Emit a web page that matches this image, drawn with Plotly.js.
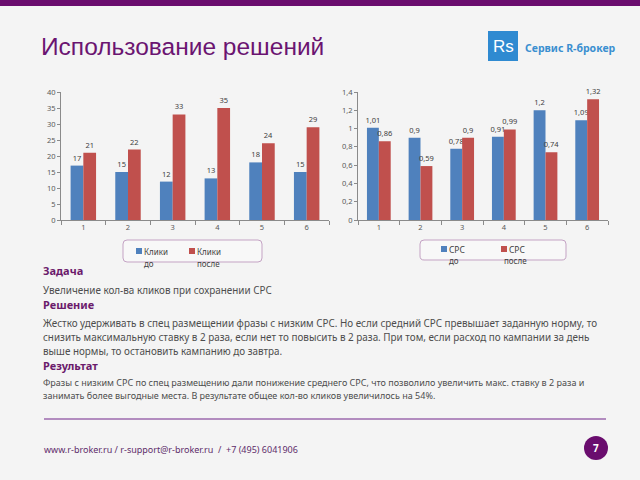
<!DOCTYPE html>
<html><head><meta charset="utf-8">
<script src="https://cdn.plot.ly/plotly-3.0.1.min.js"></script>
<style>html,body{margin:0;padding:0;background:#f4f4f4}#chart{width:640px;height:480px}</style>
</head><body><div id="chart"></div>
<script>
// ---- data ----
const categories = ['1', '2', '3', '4', '5', '6'];
const clicksBefore = [17, 15, 12, 13, 18, 15];
const clicksAfter = [21, 22, 33, 35, 24, 29];
const cpcBefore = [1.01, 0.9, 0.78, 0.91, 1.2, 1.09];
const cpcAfter = [0.86, 0.59, 0.9, 0.99, 0.74, 1.32];
const clicksTicks = [0, 5, 10, 15, 20, 25, 30, 35, 40];
const cpcTicks = [0, 0.2, 0.4, 0.6, 0.8, 1, 1.2, 1.4];
const seriesNames = ['Клики до', 'Клики после', 'CPC до', 'CPC после'];

// ---- helpers ----
const W = 640, H = 480;
const px = x => x / W;
const py = y => 1 - y / H;
const comma = v => String(v).replace('.', ',');
const BLUE = '#4f81bd', RED = '#c0504d';
const PURPLE = '#6a0d6e';
const FONT = 'Noto Sans, sans-serif';

function barTrace(vals, color, name, xa, ya) {
  return {
    type: 'bar', x: categories, y: vals, name: name,
    xaxis: xa, yaxis: ya,
    marker: {color: color, line: {width: 0}},
    text: vals.map(comma), textposition: 'outside',
    textfont: {family: FONT, size: 7.5, color: '#404040'},
    cliponaxis: false, constraintext: 'none', showlegend: false,
    hoverinfo: 'skip'
  };
}

const data = [
  barTrace(clicksBefore, BLUE, seriesNames[0], 'x', 'y'),
  barTrace(clicksAfter, RED, seriesNames[1], 'x', 'y'),
  barTrace(cpcBefore, BLUE, seriesNames[2], 'x2', 'y2'),
  barTrace(cpcAfter, RED, seriesNames[3], 'x2', 'y2')
];

const axisCommon = {
  showline: true, linecolor: '#8a8a8a', linewidth: 1,
  showgrid: false, zeroline: false,
  ticks: 'outside', tickcolor: '#8a8a8a', ticklen: 3,
  tickfont: {family: FONT, size: 7.5, color: '#595959'},
  fixedrange: true
};
const xCommon = Object.assign({}, axisCommon, {
  type: 'category', tickson: 'boundaries', ticklen: 4
});

function roundRect(x0, y0, x1, y1, r) {
  const X = v => px(v).toFixed(5), Y = v => py(v).toFixed(5);
  return `M${X(x0 + r)},${Y(y0)} L${X(x1 - r)},${Y(y0)} Q${X(x1)},${Y(y0)} ${X(x1)},${Y(y0 + r)} ` +
    `L${X(x1)},${Y(y1 - r)} Q${X(x1)},${Y(y1)} ${X(x1 - r)},${Y(y1)} L${X(x0 + r)},${Y(y1)} ` +
    `Q${X(x0)},${Y(y1)} ${X(x0)},${Y(y1 - r)} L${X(x0)},${Y(y0 + r)} Q${X(x0)},${Y(y0)} ${X(x0 + r)},${Y(y0)} Z`;
}

function rect(x0, y0, x1, y1, fill, line) {
  return {type: 'rect', xref: 'paper', yref: 'paper', x0: px(x0), x1: px(x1), y0: py(y1), y1: py(y0),
    fillcolor: fill, line: line || {width: 0}, layer: 'above'};
}

const shapes = [
  rect(0, 0, 640, 6, PURPLE),
  // logo box
  rect(488, 31, 518, 61, '#2f8ad1'),
  // legends
  {type: 'path', xref: 'paper', yref: 'paper', path: roundRect(123, 240, 262, 262, 4),
    line: {color: '#c4a3c4', width: 1}, fillcolor: 'rgba(250,250,250,0.6)', layer: 'below'},
  rect(136, 248, 142, 254, BLUE),
  rect(189, 248, 195, 254, RED),
  {type: 'path', xref: 'paper', yref: 'paper', path: roundRect(420, 240, 566, 260, 4),
    line: {color: '#c4a3c4', width: 1}, fillcolor: 'rgba(250,250,250,0.6)', layer: 'below'},
  rect(441, 246, 447, 252, BLUE),
  rect(501, 246, 507, 252, RED),
  // footer line
  {type: 'line', xref: 'paper', yref: 'paper', x0: px(44), x1: px(606), y0: py(419), y1: py(419),
    line: {color: '#b28cbf', width: 2}},
  // page number circle
  {type: 'circle', xref: 'paper', yref: 'paper', x0: px(584), x1: px(608), y0: py(460), y1: py(436),
    fillcolor: PURPLE, line: {width: 0}}
];

function txt(x, y, text, size, color, extra) {
  return Object.assign({
    xref: 'paper', yref: 'paper', x: px(x), y: py(y), text: text,
    showarrow: false, xanchor: 'left', yanchor: 'middle',
    font: {family: FONT, size: size, color: color}, borderpad: 0
  }, extra || {});
}

const HEAD = '#6b1a6b', BODY = '#4d4d4d';
const annotations = [
  txt(40, 47, 'Использование решений', 24.5, '#6b1471', {font: {family: 'Liberation Sans, Arial, sans-serif', size: 24.5, color: '#6b1471'}}),
  txt(524, 48, '<b>Сервис R-брокер</b>', 10.5, '#3a8fd0'),
  txt(503, 46, 'Rs', 17, '#ffffff', {xanchor: 'center', font: {family: 'Liberation Sans, sans-serif', size: 17, color: '#ffffff'}}),
  // legends
  txt(143, 251, 'Клики', 8, '#404040'),
  txt(143, 263, 'до', 8, '#404040'),
  txt(196, 251, 'Клики', 8, '#404040'),
  txt(196, 263, 'после', 8, '#404040'),
  txt(448, 249, 'CPC', 8.5, '#404040'),
  txt(448, 260, 'до', 8, '#404040'),
  txt(508, 249, 'CPC', 8.5, '#404040'),
  txt(503, 260, 'после', 8, '#404040'),
  // text blocks
  txt(42, 270, '<b>Задача</b>', 11, HEAD),
  txt(42, 290, 'Увеличение кол-ва кликов при сохранении CPC', 9.9, BODY),
  txt(42, 304, '<b>Решение</b>', 11, HEAD),
  txt(42, 323, 'Жестко удерживать в спец размещении фразы с низким CPC. Но если средний CPC превышает заданную норму, то', 9.9, BODY),
  txt(42, 337, 'снизить максимальную ставку в 2 раза, если нет то повысить в 2 раза. При том, если расход по кампании за день', 9.9, BODY),
  txt(42, 351, 'выше нормы, то остановить кампанию до завтра.', 9.9, BODY),
  txt(42, 365, '<b>Результат</b>', 11, HEAD),
  txt(42, 382, 'Фразы с низким CPC по спец размещению дали понижение среднего CPC, что позволило увеличить макс. ставку в 2 раза и', 9, BODY),
  txt(42, 395, 'занимать более выгодные места. В результате общее кол-во кликов увеличилось на 54%.', 9, BODY),
  // footer
  txt(43, 449, 'www.r-broker.ru / r-support@r-broker.ru  /  +7 (495) 6041906', 9, '#5e2d6b'),
  txt(596, 448, '<b>7</b>', 10, '#ffffff', {xanchor: 'center'})
];

const layout = {
  width: W, height: H,
  margin: {l: 0, r: 0, t: 0, b: 0},
  paper_bgcolor: '#f4f4f4', plot_bgcolor: 'rgba(0,0,0,0)',
  showlegend: false,
  barmode: 'group', bargap: 0.43, bargroupgap: 0,
  font: {family: FONT},
  xaxis: Object.assign({}, xCommon, {domain: [px(61), px(329)], anchor: 'y'}),
  yaxis: Object.assign({}, axisCommon, {domain: [py(220), py(92)], anchor: 'x', range: [0, 40],
    tickvals: clicksTicks, ticktext: clicksTicks.map(comma)}),
  xaxis2: Object.assign({}, xCommon, {domain: [px(358), px(608)], anchor: 'y2'}),
  yaxis2: Object.assign({}, axisCommon, {domain: [py(220), py(92)], anchor: 'x2', range: [0, 1.4],
    tickvals: cpcTicks, ticktext: cpcTicks.map(comma)}),
  shapes: shapes,
  annotations: annotations
};

Plotly.newPlot('chart', data, layout, {staticPlot: true, displayModeBar: false});
</script>
</body></html>
